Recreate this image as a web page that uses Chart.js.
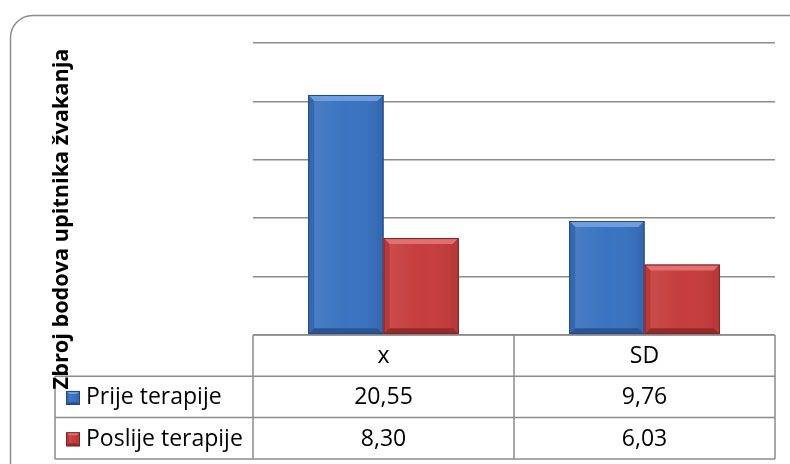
<!DOCTYPE html>
<html>
<head>
<meta charset="utf-8">
<script src="https://cdn.jsdelivr.net/npm/chart.js@4.4.1/dist/chart.umd.min.js"></script>
<style>
  html, body { margin: 0; padding: 0; background: #ffffff; }
  #wrap { width: 790px; height: 464px; position: relative; }
</style>
</head>
<body>
<div id="wrap"><canvas id="c" width="790" height="464"></canvas></div>
<script>
// ---- data ----
const categories = ['x', 'SD'];
const seriesNames = ['Prije terapije', 'Poslije terapije'];
const prijeValues = [20.55, 9.76];
const poslijeValues = [8.30, 6.03];
const yTitle = 'Zbroj bodova upitnika žvakanja';
const yMin = 0, yMax = 25, yStep = 5;

// ---- styles ----
const palettes = [
  { main: '#3a73c0', light: '#6d9fe0', side: '#3469b2', dark: '#2a5592', edge: '#25497e' },
  { main: '#c53d3c', light: '#e07170', side: '#b83938', dark: '#922b2a', edge: '#7e2524' }
];
const lineColor = '#8c8c8c';
const fontFamily = '"Open Sans", "Liberation Sans", sans-serif';

function fmt(v) { return v.toFixed(2).replace('.', ','); }

function bevelRect(ctx, x0, y0, x1, y1, pal, b) {
  ctx.save();
  ctx.fillStyle = pal.main;
  ctx.fillRect(x0, y0, x1 - x0, y1 - y0);
  const poly = (pts, col) => {
    ctx.beginPath();
    ctx.moveTo(pts[0][0], pts[0][1]);
    for (let i = 1; i < pts.length; i++) ctx.lineTo(pts[i][0], pts[i][1]);
    ctx.closePath();
    ctx.fillStyle = col;
    ctx.fill();
  };
  b = Math.min(b, (x1 - x0) / 2, (y1 - y0) / 2);
  poly([[x0, y0], [x1, y0], [x1 - b, y0 + b], [x0 + b, y0 + b]], pal.light);
  poly([[x0, y0], [x0 + b, y0 + b], [x0 + b, y1 - b], [x0, y1]], pal.side);
  poly([[x1, y0], [x1 - b, y0 + b], [x1 - b, y1 - b], [x1, y1]], pal.side);
  poly([[x0, y1], [x0 + b, y1 - b], [x1 - b, y1 - b], [x1, y1]], pal.dark);
  const g = ctx.createLinearGradient(x0 + b, 0, x1 - b, 0);
  g.addColorStop(0, 'rgba(255,255,255,0.08)');
  g.addColorStop(0.5, 'rgba(255,255,255,0.0)');
  g.addColorStop(1, 'rgba(0,0,0,0.05)');
  ctx.fillStyle = g;
  ctx.fillRect(x0 + b, y0 + b, x1 - x0 - 2 * b, y1 - y0 - 2 * b);
  ctx.strokeStyle = pal.edge;
  ctx.lineWidth = 1;
  ctx.strokeRect(x0 + 0.5, y0 + 0.5, x1 - x0 - 1, y1 - y0 - 1);
  ctx.restore();
}

const framePlugin = {
  id: 'frame',
  beforeDraw(chart) {
    const ctx = chart.ctx;
    ctx.save();
    ctx.fillStyle = '#ffffff';
    ctx.fillRect(0, 0, chart.width, chart.height);
    ctx.strokeStyle = lineColor;
    ctx.lineWidth = 1.5;
    ctx.beginPath();
    ctx.roundRect(10.5, 15.5, 800, 470, 22);
    ctx.stroke();
    ctx.restore();
  }
};

const barsPlugin = {
  id: 'bevelBars',
  afterDatasetsDraw(chart) {
    const ctx = chart.ctx;
    chart.data.datasets.forEach((ds, di) => {
      const meta = chart.getDatasetMeta(di);
      meta.data.forEach(el => {
        const p = el.getProps(['x', 'y', 'base', 'width'], true);
        bevelRect(ctx, p.x - p.width / 2, p.y, p.x + p.width / 2, p.base, palettes[di], 6);
      });
    });
  }
};

const tablePlugin = {
  id: 'dataTable',
  afterDraw(chart) {
    const ctx = chart.ctx;
    const xs = chart.scales.x;
    const ca = chart.chartArea;
    const rowH = 41.3;
    const top = ca.bottom;
    const labelLeft = 55;
    const n = categories.length;
    const edges = [];
    for (let i = 0; i < n; i++) {
      const c = xs.getPixelForValue(i);
      const half = (xs.width / n) / 2;
      if (i === 0) edges.push(c - half);
      edges.push(c + half);
    }
    ctx.save();
    ctx.strokeStyle = lineColor;
    ctx.lineWidth = 1.5;
    ctx.beginPath();
    ctx.moveTo(edges[0], top); ctx.lineTo(edges[n], top);
    for (let r = 1; r <= seriesNames.length + 1; r++) {
      const y = top + r * rowH;
      ctx.moveTo(labelLeft, y); ctx.lineTo(edges[n], y);
    }
    ctx.moveTo(labelLeft, top + rowH); ctx.lineTo(labelLeft, top + rowH * (seriesNames.length + 1));
    edges.forEach(x => { ctx.moveTo(x, top); ctx.lineTo(x, top + rowH * (seriesNames.length + 1)); });
    ctx.stroke();

    ctx.fillStyle = '#000000';
    ctx.font = '23px ' + fontFamily;
    ctx.textBaseline = 'middle';
    ctx.textAlign = 'center';
    categories.forEach((c, i) => {
      ctx.fillText(c, xs.getPixelForValue(i), top + rowH / 2 + 1);
    });
    const series = [prijeValues, poslijeValues];
    seriesNames.forEach((name, si) => {
      const yc = top + rowH * (si + 1) + rowH / 2 + 1;
      ctx.textAlign = 'center';
      series[si].forEach((v, i) => ctx.fillText(fmt(v), xs.getPixelForValue(i), yc));
      ctx.textAlign = 'left';
      bevelRect(ctx, labelLeft + 11, yc - 7, labelLeft + 25, yc + 7, palettes[si], 3);
      ctx.fillStyle = '#000000';
      ctx.fillText(name, labelLeft + 31, yc);
    });

    ctx.translate(62, (50 + 388) / 2);
    ctx.rotate(-Math.PI / 2);
    ctx.textAlign = 'center';
    ctx.font = 'bold 21.7px ' + fontFamily;
    ctx.fillText(yTitle, 0, 0);
    ctx.restore();
  }
};

new Chart(document.getElementById('c'), {
  type: 'bar',
  data: {
    labels: categories,
    datasets: [
      { label: seriesNames[0], data: prijeValues, backgroundColor: 'rgba(0,0,0,0)', borderWidth: 0 },
      { label: seriesNames[1], data: poslijeValues, backgroundColor: 'rgba(0,0,0,0)', borderWidth: 0 }
    ]
  },
  options: {
    responsive: false,
    animation: false,
    devicePixelRatio: 1,
    layout: { padding: { left: 253, right: 15, top: 43, bottom: 129 } },
    categoryPercentage: 0.577,
    barPercentage: 1.0,
    plugins: { legend: { display: false }, tooltip: { enabled: false }, title: { display: false } },
    scales: {
      x: { display: false },
      y: {
        min: yMin, max: yMax,
        ticks: { display: false, stepSize: yStep },
        border: { display: false },
        grid: { color: lineColor, lineWidth: 1.5, drawTicks: false }
      }
    }
  },
  plugins: [framePlugin, barsPlugin, tablePlugin]
});
</script>
</body>
</html>
